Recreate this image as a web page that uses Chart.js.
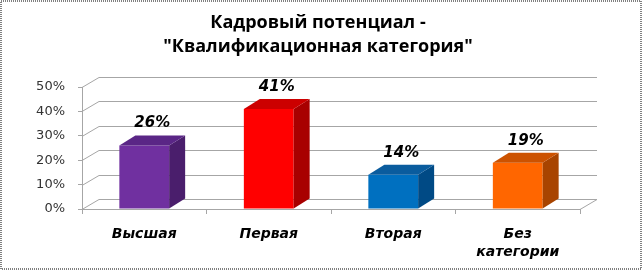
<!DOCTYPE html>
<html>
<head>
<meta charset="utf-8">
<script src="https://cdn.jsdelivr.net/npm/chart.js@4.4.0/dist/chart.umd.min.js"></script>
<style>
  html, body { margin: 0; padding: 0; background: #fff; }
  #wrap { width: 642px; height: 270px; }
</style>
</head>
<body>
<div id="wrap"><canvas id="chart" width="642" height="270"></canvas></div>
<script>
  // Données du graphique
  const titleLines = ['Кадровый потенциал -', '"Квалификационная категория"'];
  const categories = ['Высшая', 'Первая', 'Вторая', ['Без', 'категории']];
  const values = [26, 41, 14, 19];
  const valueLabels = ['26%', '41%', '14%', '19%'];
  const yTickLabels = ['0%', '10%', '20%', '30%', '40%', '50%'];

  // Couleurs des faces (avant, côté, dessus)
  const frontColors = ['#7030a0', '#ff0000', '#0070c0', '#ff6600'];
  const sideColors = ['#4a1e6c', '#a80000', '#004a85', '#a84400'];
  const topColors = ['#5a2686', '#cc0000', '#0a5c9e', '#cc5200'];

  const GRID = '#a6a6a6';
  const WALL_DX = 17, WALL_DY = 10; // profondeur des murs
  const BAR_DX = 16, BAR_DY = 10;   // profondeur des barres

  /* CADRE, TITRE ET MURS 3D */
  const decor = {
    id: 'decor',
    beforeDraw(chart) {
      const ctx = chart.ctx;
      ctx.save();
      ctx.fillStyle = '#fff';
      ctx.fillRect(0, 0, chart.width, chart.height);
      ctx.strokeStyle = '#808080';
      ctx.lineWidth = 2;
      ctx.setLineDash([1, 1]);
      ctx.strokeRect(1, 1, chart.width - 2, chart.height - 2);
      ctx.setLineDash([]);

      // titre
      ctx.fillStyle = '#000';
      ctx.font = 'bold 18px "Open Sans"';
      ctx.textAlign = 'center';
      ctx.textBaseline = 'middle';
      titleLines.forEach((t, i) => ctx.fillText(t, 318, 23 + i * 24));
      ctx.restore();
    },
    beforeDatasetsDraw(chart) {
      const { ctx, chartArea: a, scales: { y } } = chart;
      ctx.save();
      ctx.strokeStyle = GRID;
      ctx.lineWidth = 1;
      y.ticks.forEach((t) => {
        const py = Math.round(y.getPixelForValue(t.value)) + 0.5;
        ctx.beginPath();
        ctx.moveTo(a.left, py);
        ctx.lineTo(a.left + WALL_DX, py - WALL_DY);
        ctx.lineTo(a.right + WALL_DX, py - WALL_DY);
        ctx.stroke();
      });
      // bord droit du sol
      const p0 = Math.round(y.getPixelForValue(0)) + 0.5;
      ctx.beginPath();
      ctx.moveTo(a.right, p0);
      ctx.lineTo(a.right + WALL_DX, p0 - WALL_DY);
      ctx.stroke();
      ctx.restore();
    },
    afterDatasetsDraw(chart) {
      const ctx = chart.ctx;
      const meta = chart.getDatasetMeta(0);
      ctx.save();
      meta.data.forEach((bar, i) => {
        const l = bar.x - bar.width / 2;
        const r = bar.x + bar.width / 2;
        const top = bar.y;
        const bottom = bar.base;

        // face de côté
        ctx.fillStyle = sideColors[i];
        ctx.beginPath();
        ctx.moveTo(r, top);
        ctx.lineTo(r + BAR_DX, top - BAR_DY);
        ctx.lineTo(r + BAR_DX, bottom - BAR_DY);
        ctx.lineTo(r, bottom);
        ctx.closePath();
        ctx.fill();

        // face du dessus
        ctx.fillStyle = topColors[i];
        ctx.beginPath();
        ctx.moveTo(l, top);
        ctx.lineTo(l + BAR_DX, top - BAR_DY);
        ctx.lineTo(r + BAR_DX, top - BAR_DY);
        ctx.lineTo(r, top);
        ctx.closePath();
        ctx.fill();

        // étiquette de valeur
        ctx.fillStyle = '#000';
        ctx.font = 'italic bold 15px "DejaVu Sans"';
        ctx.textAlign = 'center';
        ctx.textBaseline = 'middle';
        ctx.fillText(valueLabels[i], bar.x + BAR_DX / 2, top - BAR_DY - 12);
      });
      ctx.restore();
    }
  };

  const ctx = document.getElementById('chart').getContext('2d');
  const chart = new Chart(ctx, {
    type: 'bar',
    data: {
      labels: categories,
      datasets: [{
        data: values,
        backgroundColor: frontColors,
        borderWidth: 0,
        categoryPercentage: 1,
        barPercentage: 0.4
      }]
    },
    options: {
      responsive: false,
      animation: false,
      devicePixelRatio: 1,
      layout: { padding: { top: 87, right: 62, left: 0, bottom: 0 } },
      plugins: {
        legend: { display: false },
        title: { display: false },
        tooltip: { enabled: false }
      },
      scales: {
        x: {
          grid: { display: true, drawOnChartArea: false, tickLength: 5, color: GRID, offset: true },
          border: { display: true, color: GRID },
          ticks: {
            color: '#000',
            padding: 11,
            maxRotation: 0,
            autoSkip: false,
            font: { family: '"DejaVu Sans"', size: 14, weight: 'bold', style: 'italic', lineHeight: 1.3 }
          },
          afterFit(s) { s.height = 61; }
        },
        y: {
          min: 0,
          max: 50,
          grid: { display: true, drawOnChartArea: false, tickLength: 4, color: GRID },
          border: { display: true, color: GRID },
          ticks: {
            stepSize: 10,
            color: '#333',
            padding: 13,
            font: { family: '"DejaVu Sans"', size: 13 },
            callback: (v, i) => yTickLabels[i]
          },
          afterFit(s) { s.width = 82; }
        }
      }
    },
    plugins: [decor]
  });
</script>
</body>
</html>
